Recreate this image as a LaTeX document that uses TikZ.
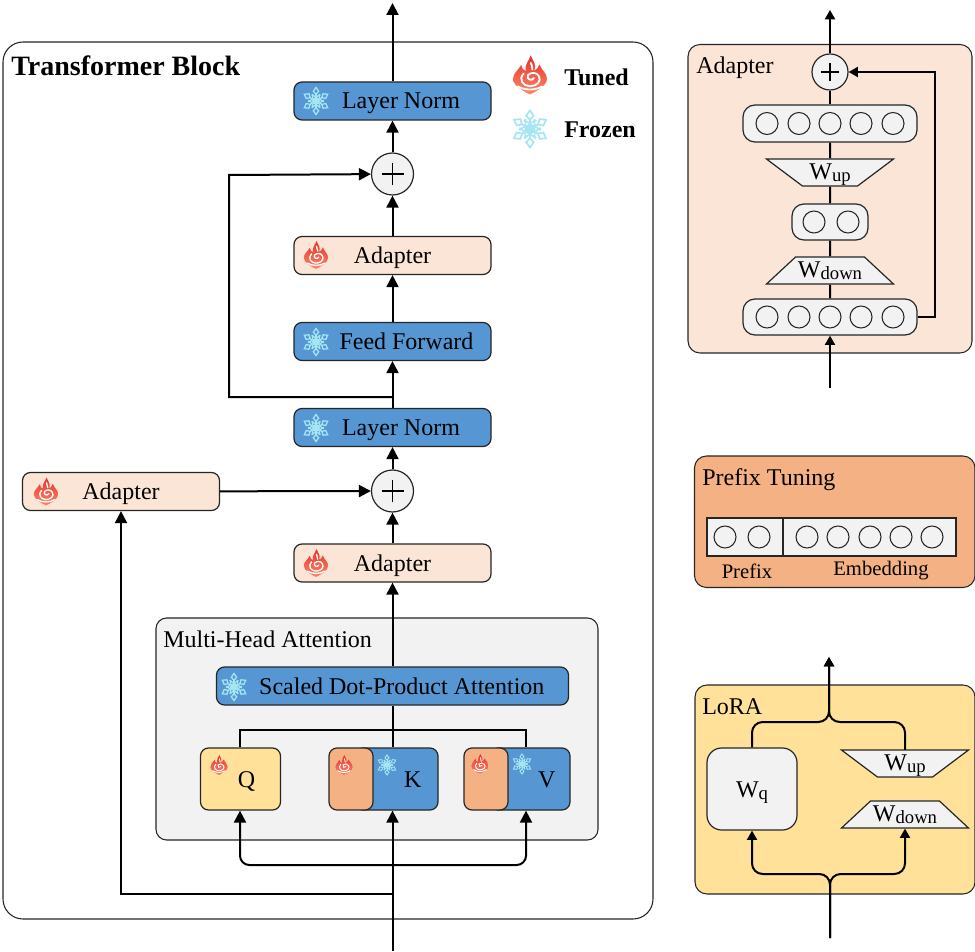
\documentclass[tikz,border=0pt]{standalone}
\usepackage{fontspec}
\setmainfont{Liberation Serif}
\usetikzlibrary{arrows.meta,shapes.geometric}
\pgfdeclarelayer{panel}
\pgfdeclarelayer{edge}
\pgfsetlayers{panel,edge,main}
\definecolor{blk}{HTML}{5596D3}
\definecolor{peach}{HTML}{FBE5D6}
\definecolor{org}{HTML}{F4B183}
\definecolor{yel}{HTML}{FFE199}
\definecolor{gry}{HTML}{F2F2F2}
\definecolor{fireA}{HTML}{E5352A}
\definecolor{fireB}{HTML}{FF8468}
\definecolor{ice}{HTML}{A6E6F2}
\newcommand{\px}[1]{\fontsize{#1}{#1}\selectfont}
\newcommand{\subs}[1]{\raisebox{-1.5pt}{\px{14}#1}}
\newcommand{\off}[1]{\hspace*{#1pt}}
\tikzset{
  x=0.75pt,y=-0.75pt,
  base/.style={draw=black!85,line width=0.9pt,inner sep=0pt,font=\px{18}},
  bx/.style args={#1/#2/#3}{base,rectangle,rounded corners=6pt,fill=#1,minimum width=#2*0.75pt,minimum height=#3*0.75pt,text height=14pt,text depth=2pt},
  blockblue/.style={bx=blk/197/38},
  blockpeach/.style={bx=peach/197/38},
  sumnode/.style={base,circle,fill=gry,minimum size=42*0.75pt},
  smallsum/.style={base,circle,fill=gry,minimum size=36*0.75pt},
  plusline/.style={black,line width=0.8pt},
  neuron/.style={draw=black!85,line width=0.8pt,circle,inner sep=0pt,minimum size=22*0.75pt,fill=gry},
  row/.style args={#1/#2}{bx=gry/#1/#2,rounded corners=9pt},
  wdown/.style={base,fill=gry,trapezium,trapezium stretches=true,minimum width=128*0.75pt,minimum height=27*0.75pt,trapezium left angle=34.7,trapezium right angle=34.7,text height=12pt,text depth=2pt},
  wup/.style={wdown,shape border rotate=180},
  panelbox/.style={draw=black!85,line width=0.8pt},
  title/.style={inner sep=0pt,anchor=west,font=\px{18}},
  flow/.style={line width=1.5pt,black},
  arr/.style={flow,-{Triangle[length=9pt,width=9pt]}},
  smallarr/.style={flow,-{Triangle[length=7pt,width=7.5pt]}},
  flameicon/.pic={%
    \begin{scope}[yscale=-1]
      \shade[top color=fireA,bottom color=fireB,shading angle=0]
        (0,-1) .. controls (-.3,-.85) and (-.87,-.55) .. (-.87,-.2)
        .. controls (-.87,.1) and (-.62,.2) .. (-.45,.52)
        .. controls (-.4,.3) and (-.32,.25) .. (-.22,.2)
        .. controls (-.3,.55) and (-.05,.7) .. (.03,1)
        .. controls (.18,.7) and (.35,.5) .. (.22,.22)
        .. controls (.38,.3) and (.42,.38) .. (.48,.55)
        .. controls (.62,.2) and (.87,.1) .. (.87,-.2)
        .. controls (.87,-.55) and (.3,-.85) .. (0,-1) -- cycle;
      \draw[white,line cap=round] (-.32,.08) .. controls (-.62,-.22) and (-.35,-.58) .. (0,-.58)
        .. controls (.35,-.58) and (.62,-.3) .. (.45,-.05)
        .. controls (.33,.16) and (.04,.14) .. (-.1,0)
        .. controls (-.22,-.2) and (.1,-.36) .. (.2,-.15);
      \draw[white,line cap=round] (-.62,-.58) .. controls (-.3,-.8) and (.3,-.8) .. (.62,-.58);
      \draw[white,line cap=round] (.12,.28) .. controls (.14,.42) and (.08,.52) .. (.04,.62);
    \end{scope}
  },
  snowicon/.pic={%
    \foreach \a in {30,90,...,330}{
      \begin{scope}[rotate=\a]
        \draw[ice] (.2,0) -- (.55,0);
        \draw[ice] (.5,0) -- (.72,.2) -- (1,0) -- (.72,-.2) -- cycle;
        \draw[ice] (.32,.05) -- (.48,.34);
        \draw[ice] (.32,-.05) -- (.48,-.34);
      \end{scope}
    }
    \fill[ice] (0,0) circle (.3);
  }
}
\newcommand{\flameat}[3]{\pic[scale=#3,line width=#3*0.07pt] at (#1,#2) {flameicon};}
\newcommand{\snowat}[3]{\pic[scale=#3,line width=#3*0.07pt] at (#1,#2) {snowicon};}
\begin{document}
\begin{tikzpicture}
\path[use as bounding box] (0,0) rectangle (975,952);

% ---------- free ends and bends
\coordinate (topout) at (392.5,3);
\coordinate (mainin) at (392.5,951);
\coordinate (skipA) at (392.5,397);
\coordinate (skipB) at (229,397);
\coordinate (skipC) at (229,175);
\coordinate (tapA) at (392.5,893.5);
\coordinate (tapB) at (121,893.5);
\coordinate (busT) at (392.5,730);
\coordinate (busTl) at (240,730);
\coordinate (busTr) at (526,730);
\coordinate (busB) at (392.5,865);
\coordinate (busBl) at (240,865);
\coordinate (busBr) at (526,865);

% ---------- main column
\node[blockblue] (ln1) at (392.5,101) {\off{12.75}Layer Norm};
\node[sumnode] (sum1) at (392.5,174) {};
\node[blockpeach] (ad1) at (392.5,255.5) {Adapter};
\node[blockblue] (ff) at (392.5,341.5) {\off{21}Feed Forward};
\node[blockblue] (ln2) at (392.5,427.5) {\off{12.75}Layer Norm};
\node[sumnode] (sum2) at (392.5,491) {};
\node[blockpeach] (ad2) at (121,491.5) {Adapter};
\node[blockpeach] (ad3) at (392.5,563) {Adapter};
\node[bx=blk/352/38] (sdpa) at (392.5,686) {\off{14}Scaled Dot-Product Attention};
\node[bx=yel/80/62] (q) at (240.5,779) {\off{9}Q};
\node[bx=blk/83/62] (k) at (396.5,779) {\off{24.5}K};
\node[bx=org/44/62] (kt) at (351,779) {};
\node[bx=blk/80/62] (v) at (530,779) {\off{25}V};
\node[bx=org/44/62] (vt) at (486,779) {};

\foreach \s in {sum1,sum2}{
  \draw[plusline] ([xshift=-8.25pt]\s.center) -- ([xshift=8.25pt]\s.center);
  \draw[plusline] ([yshift=-8.25pt]\s.center) -- ([yshift=8.25pt]\s.center);
}

% icons
\flameat{316}{255}{14}
\flameat{316}{563}{14}
\flameat{46}{491.5}{14}
\snowat{316}{101}{13.5}
\snowat{316}{342}{13.5}
\snowat{316}{428}{13.5}
\snowat{234}{687}{13.5}
\flameat{530}{75}{19.5}
\snowat{530}{129}{18.5}
\flameat{219}{765}{10}
\flameat{344}{765}{10}
\flameat{480}{764}{10}
\snowat{387}{765}{10}
\snowat{522}{764}{10}

\node[title,font=\bfseries\px{21}] (ttl) at (11,66) {Transformer Block};
\node[title,font=\bfseries\px{18}] (tuned) at (564,77) {Tuned};
\node[title,font=\bfseries\px{18}] (frozen) at (564,130) {Frozen};
\node[title] (mhat) at (163,639.5) {Multi-Head Attention};

% ---------- adapter panel
\coordinate (apout) at (830,10);
\coordinate (apin) at (830,388);
\coordinate (apb) at (935,317);
\coordinate (apc) at (935,72);
\node[smallsum] (apsum) at (830,72) {};
\draw[plusline] ([xshift=-6.4pt]apsum.center) -- ([xshift=6.4pt]apsum.center);
\draw[plusline] ([yshift=-6.4pt]apsum.center) -- ([yshift=6.4pt]apsum.center);
\node[row=174/37] (aptop) at (830,123.5) {};
\node[wup] (apup) at (830,172.5) {W\subs{up}};
\node[row=76/36] (apmid) at (830,222) {};
\node[wdown] (apdown) at (830,270.5) {W\subs{down}};
\node[row=174/36] (apbot) at (830,317) {};
\foreach \x in {767,799,830,861,893}{
  \node[neuron] at (\x,123.5) {};
  \node[neuron] at (\x,317) {};
}
\node[neuron] at (814,222) {};
\node[neuron] at (848,222) {};
\node[title] (apt) at (696,68) {Adapter};

% ---------- prefix tuning panel
\node[draw=black!85,line width=0.8pt,fill=gry,inner sep=0pt,minimum width=76*0.75pt,minimum height=38*0.75pt] (pfxa) at (745,537) {};
\node[draw=black!85,line width=0.8pt,fill=gry,inner sep=0pt,minimum width=173*0.75pt,minimum height=38*0.75pt] (pfxb) at (869.5,537) {};
\foreach \x in {725,759,807,838,870,901,932}{
  \node[neuron] at (\x,537) {};
}
\node[title] (pfxt) at (702,479.5) {Prefix Tuning};
\node[inner sep=0pt,font=\px{15.5}] (pfxl) at (747,571) {Prefix};
\node[inner sep=0pt,font=\px{15.5}] (embl) at (881,571) {Embedding};

% ---------- LoRA panel
\coordinate (lout) at (829,657);
\coordinate (lin) at (830,938);
\coordinate (lt) at (829,722);
\coordinate (lb) at (830,874);
\node[bx=gry/90/82,rounded corners=11pt] (wq) at (752,789) {W\subs{q}};
\node[wup] (lup) at (905,763.5) {W\subs{up}};
\node[wdown] (ldown) at (905,814.5) {W\subs{down}};
\node[title] (lt0) at (702,707) {LoRA};

% ---------- connectors
\begin{pgfonlayer}{edge}
  \draw[arr] (ln1) -- (topout);
  \draw[arr] (sum1) -- (ln1);
  \draw[arr] (ad1) -- (sum1);
  \draw[arr] (ff) -- (ad1);
  \draw[arr] (ln2) -- (ff);
  \draw[arr] (sum2) -- (ln2);
  \draw[arr] (ad3) -- (sum2);
  \draw[arr] (sdpa) -- (ad3);
  \draw[arr] (ad2) -- (sum2);
  \draw[arr] (skipA) -- (skipB) -- (skipC) -- (sum1);
  \draw[arr] (tapA) -- (tapB) -- (ad2);
  \draw[arr] (mainin) -- (k.south -| mainin);
  \draw[flow] (k.north -| busT) -- (sdpa.south -| busT);
  \draw[flow] (q.north -| busTl) -- (busTl) -- (busTr) -- (v.north -| busTr);
  \draw[arr,rounded corners=7pt] (busB) -- (busBl) -- (q.south -| busBl);
  \draw[arr,rounded corners=7pt] (busB) -- (busBr) -- (v.south -| busBr);

  \draw[smallarr] (apsum) -- (apout);
  \draw[flow] (apsum) -- (aptop);
  \draw[flow] (aptop) -- (apup);
  \draw[flow] (apup) -- (apmid);
  \draw[flow] (apmid) -- (apdown);
  \draw[flow] (apdown) -- (apbot);
  \draw[smallarr] (apin) -- (apbot);
  \draw[smallarr] (apbot.east) -- (apb) -- (apc) -- (apsum);

  \draw[smallarr,rounded corners=8pt] (wq.north) |- (lt) -- (lout);
  \draw[smallarr,rounded corners=8pt] (lup.center) |- (lt) -- (lout);
  \draw[smallarr,rounded corners=8pt] (lin) -- (lb) -| (wq.south);
  \draw[smallarr,rounded corners=8pt] (lin) -- (lb) -| (ldown.south);
\end{pgfonlayer}

% ---------- panels
\begin{pgfonlayer}{panel}
  \draw[panelbox,fill=white,rounded corners=15pt] (3,42) rectangle (653,919);
  \draw[panelbox,fill=gry,rounded corners=8pt] (156,618) rectangle (598,840);
  \draw[panelbox,fill=peach,rounded corners=9pt] (688,44.5) rectangle (972,353);
  \draw[panelbox,fill=org,rounded corners=9pt] (694.5,456) rectangle (975,587.5);
  \draw[panelbox,fill=yel,rounded corners=9pt] (695,685) rectangle (975,894);
\end{pgfonlayer}
\end{tikzpicture}
\end{document}
